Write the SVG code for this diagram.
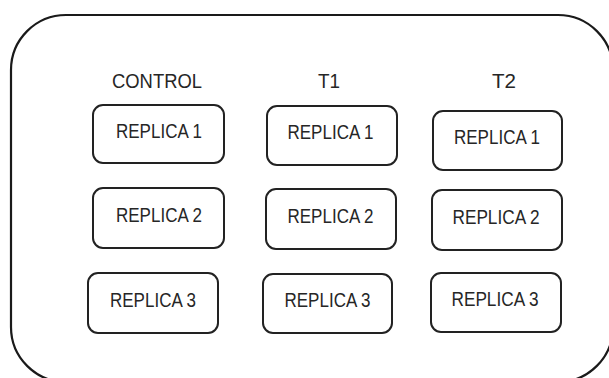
<svg xmlns="http://www.w3.org/2000/svg" width="609" height="378" viewBox="0 0 609 378">
<style>
.frame{fill:none;stroke:#1a1a1a;stroke-width:2.2}
.box{fill:#fff;stroke:#222;stroke-width:2}
.lbl{font-family:"Liberation Sans",Arial,sans-serif;font-size:20px;fill:#262626;text-anchor:middle}
</style>
<rect width="609" height="378" fill="#fff"/>
<rect class="frame" x="11" y="15" width="602" height="367" rx="55" ry="55"/>
<g id="headers">
<text class="lbl" x="157" y="88" textLength="90" lengthAdjust="spacingAndGlyphs">CONTROL</text>
<text class="lbl" x="329" y="88" textLength="22" lengthAdjust="spacingAndGlyphs">T1</text>
<text class="lbl" x="504" y="88" textLength="24" lengthAdjust="spacingAndGlyphs">T2</text>
</g>
<g id="control-r1"><rect class="box" x="93" y="105" width="131" height="58" rx="10"/><text class="lbl" x="159" y="138" textLength="86" lengthAdjust="spacingAndGlyphs">REPLICA 1</text></g>
<g id="t1-r1"><rect class="box" x="267" y="106" width="130" height="59" rx="10"/><text class="lbl" x="330.5" y="139" textLength="86" lengthAdjust="spacingAndGlyphs">REPLICA 1</text></g>
<g id="t2-r1"><rect class="box" x="433" y="111" width="129" height="59" rx="10"/><text class="lbl" x="497" y="144" textLength="86" lengthAdjust="spacingAndGlyphs">REPLICA 1</text></g>
<g id="control-r2"><rect class="box" x="93" y="188" width="131" height="60" rx="10"/><text class="lbl" x="159" y="222" textLength="86" lengthAdjust="spacingAndGlyphs">REPLICA 2</text></g>
<g id="t1-r2"><rect class="box" x="266" y="189" width="130" height="60" rx="10"/><text class="lbl" x="330.5" y="223" textLength="86" lengthAdjust="spacingAndGlyphs">REPLICA 2</text></g>
<g id="t2-r2"><rect class="box" x="432" y="190" width="130" height="60" rx="10"/><text class="lbl" x="496" y="224" textLength="87" lengthAdjust="spacingAndGlyphs">REPLICA 2</text></g>
<g id="control-r3"><rect class="box" x="88" y="273" width="130" height="60" rx="10"/><text class="lbl" x="153" y="307" textLength="86" lengthAdjust="spacingAndGlyphs">REPLICA 3</text></g>
<g id="t1-r3"><rect class="box" x="263" y="274" width="129" height="59" rx="10"/><text class="lbl" x="327.5" y="307" textLength="86" lengthAdjust="spacingAndGlyphs">REPLICA 3</text></g>
<g id="t2-r3"><rect class="box" x="431" y="273" width="130" height="59" rx="10"/><text class="lbl" x="495" y="306" textLength="87" lengthAdjust="spacingAndGlyphs">REPLICA 3</text></g>
<g id="connectors"/>
</svg>
